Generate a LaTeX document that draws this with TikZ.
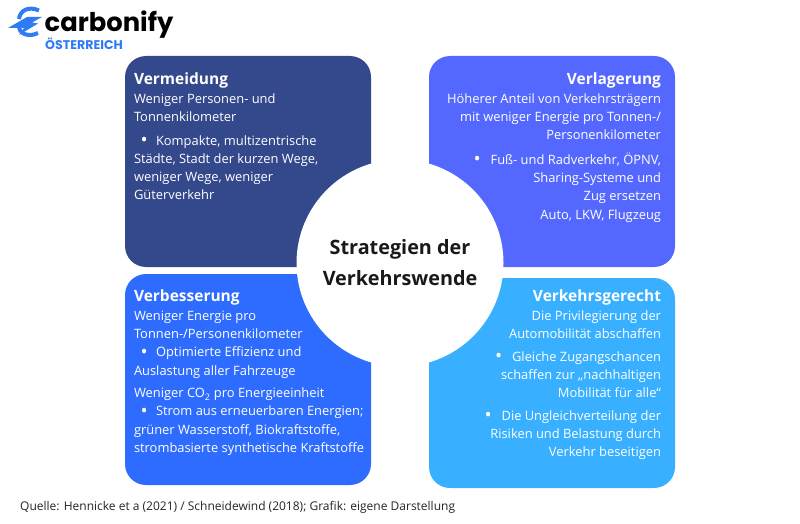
\documentclass[tikz,border=0pt]{standalone}
\usepackage{fontspec}
\setmainfont{Open Sans}
\newfontfamily\logofont{Poppins}
\definecolor{cA}{HTML}{34488C}
\definecolor{cB}{HTML}{5468FF}
\definecolor{cC}{HTML}{2E6CFF}
\definecolor{cD}{HTML}{38B0FF}
\definecolor{cLogo}{HTML}{2F7BF5}
\newcommand{\blt}{\raisebox{-1.2pt}{\fontsize{19}{18.2}\selectfont\textbullet}}
\newcommand{\bul}{\makebox[22pt][l]{\hspace*{6.5pt}\blt}}
\newcommand{\bulr}{\makebox[17pt][l]{\blt}}
\newcommand{\ttl}[1]{{\fontsize{15.5}{18.2}\selectfont\bfseries #1}}
\begin{document}
\begin{tikzpicture}[x=1pt,y=-1pt,
  body/.style={inner sep=0pt,outer sep=0pt,text=white,font=\fontsize{12.9}{18.2}\selectfont},
  bodyl/.style={body,anchor=north west,align=left},
  bodyr/.style={body,anchor=north east,align=right},
  capt/.style={inner sep=0pt,anchor=base west,font=\fontsize{12}{15}\selectfont,text=black!85}]
\useasboundingbox (0,0) rectangle (800,524);
\fill[white] (0,0) rectangle (800,524);
% quadrants
\fill[cA,rounded corners=21pt] (125,56) rectangle (371,267);
\fill[cB,rounded corners=21pt] (429,56) rectangle (675,267);
\fill[cC,rounded corners=21pt] (125,274) rectangle (371,485);
\fill[cD,rounded corners=21pt] (429,278) rectangle (675,488);
% sharp inner corners
\fill[cA] (330,230) rectangle (371,267);
\fill[cB] (429,230) rectangle (470,267);
\fill[cC] (330,274) rectangle (371,310);
\fill[cD] (429,278) rectangle (470,315);
\node[circle,fill=white,minimum size=207pt,inner sep=0pt] (hub) at (400,263)
  {\parbox{170pt}{\centering\fontsize{19.8}{31}\selectfont\bfseries\color{black!90}Strategien der\\Verkehrswende}};
% texts
\node[bodyl] (tA) at (134,72.5) {\ttl{Vermeidung}\\[1pt]Weniger Personen- und\\Tonnenkilometer\\[5.5pt]
 \bul Kompakte, multizentrische\\Städte, Stadt der kurzen Wege,\\weniger Wege, weniger\\Güterverkehr};
\node[bodyr] (tB) at (661,72.5) {\ttl{Verlagerung}\\[1pt]Höherer Anteil von Verkehrsträgern\\mit weniger Energie pro Tonnen-/\\Personenkilometer\\[6.5pt]
 \bulr Fuß- und Radverkehr, ÖPNV,\\Sharing-Systeme und\hspace*{4pt}\\Zug ersetzen\hspace*{4pt}\\Auto, LKW, Flugzeug};
\node[bodyl] (tC) at (134,289.5) {\ttl{Verbesserung}\\[1pt]Weniger Energie pro\\Tonnen-/Personenkilometer\\
 \bul Optimierte Effizienz und\\Auslastung aller Fahrzeuge\\[4.5pt]
 Weniger CO\textsubscript{2} pro Energieeinheit\\
 \bul Strom aus erneuerbaren Energien;\\grüner Wasserstoff, Biokraftstoffe,\\strombasierte synthetische Kraftstoffe};
\node[bodyr] (tD) at (661,289.5) {\ttl{Verkehrsgerecht}\\[1pt]Die Privilegierung der\hspace*{4pt}\\Automobilität abschaffen\\[4.5pt]
 \bulr Gleiche Zugangschancen\\schaffen zur „nachhaltigen\hspace*{4pt}\\Mobilität für alle“\\[4.5pt]
 \bulr Die Ungleichverteilung der\\Risiken und Belastung durch\\Verkehr beseitigen};
\node[capt] (src) at (20,510) {Quelle: Hennicke et a (2021) / Schneidewind (2018); Grafik: eigene Darstellung};
% logo
\node[inner sep=0pt,anchor=base west,font=\logofont\fontsize{25.8}{26}\selectfont\bfseries] (lg) at (44.5,32) {carbonify};
\node[inner sep=0pt,anchor=base west,font=\logofont\fontsize{12.6}{13}\selectfont\bfseries,text=cLogo] (lg2) at (45,50) {ÖSTERREICH};
\draw[cLogo,line width=4pt] (39,10.5) .. controls (29,6) and (20,10) .. (19,19);
\draw[cLogo,line width=4pt] (19,27) .. controls (20,35) and (30,37) .. (38,33);
\fill[cLogo] (8,28) -- (27,17) -- (42,17) -- (32,22.5) -- (38,23.5) -- (19,35) -- (24,28) -- cycle;
\end{tikzpicture}
\end{document}
